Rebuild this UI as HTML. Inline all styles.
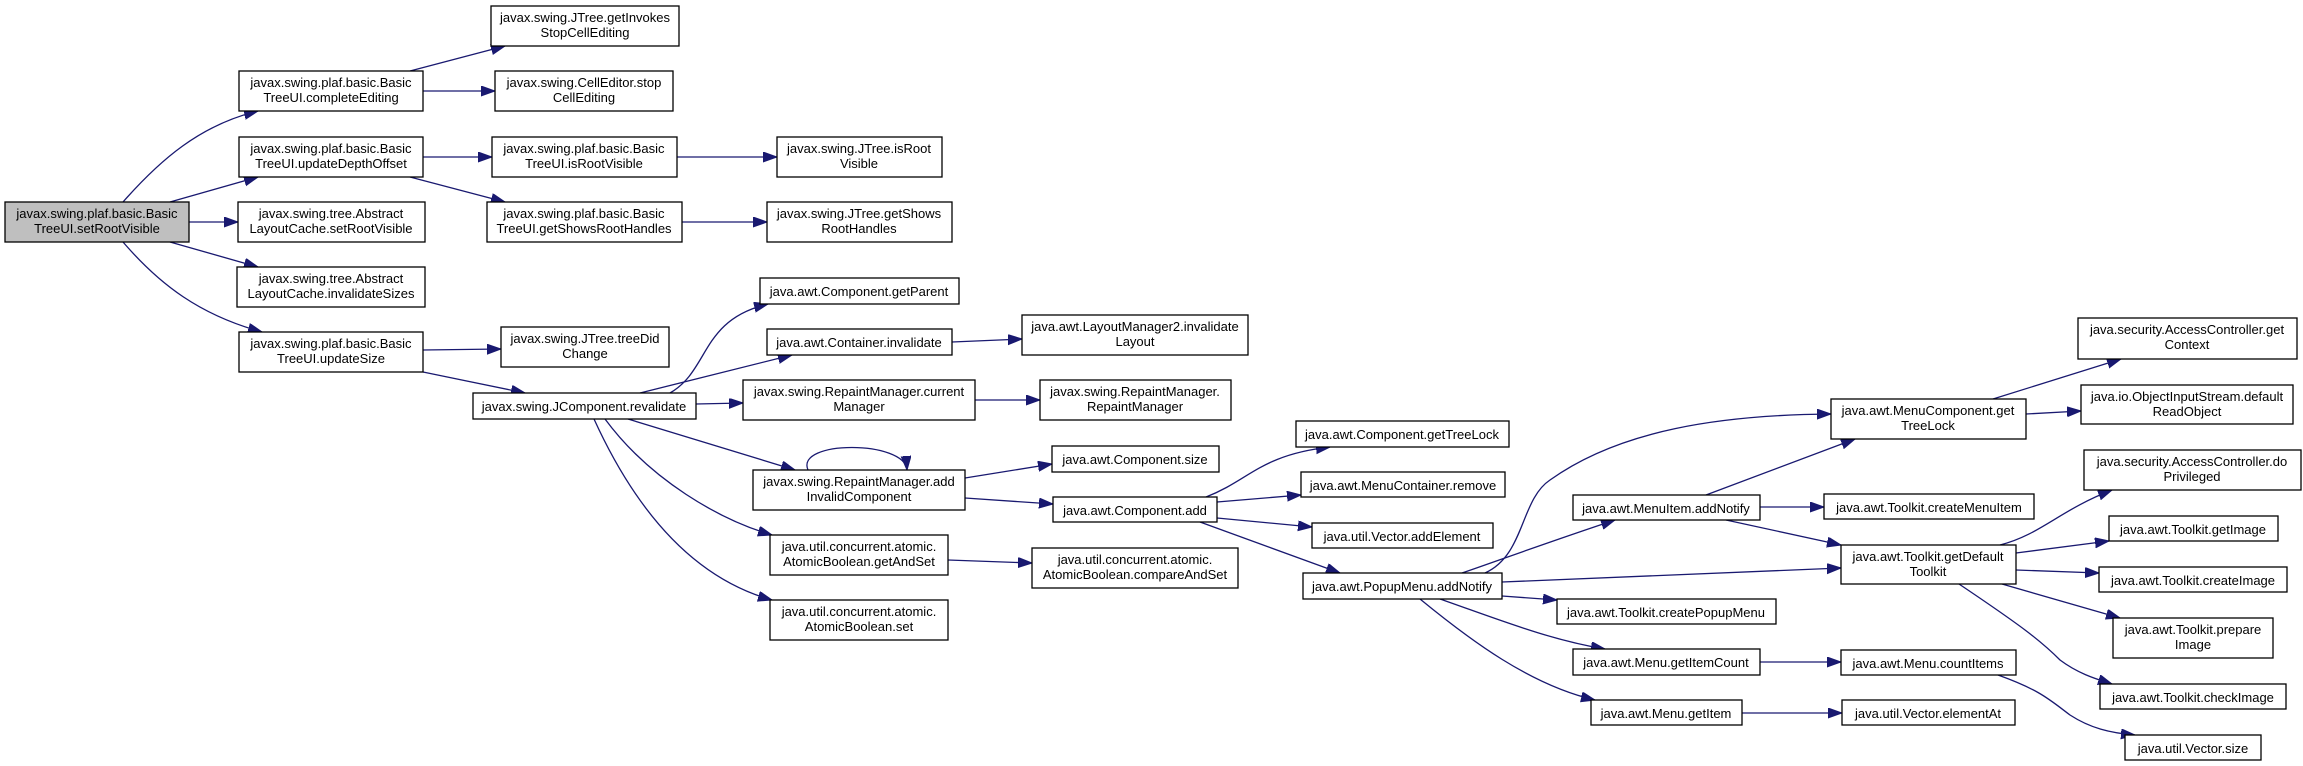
<!DOCTYPE html>
<html><head><meta charset="utf-8"><style>
html,body{margin:0;padding:0;background:#fff;}
svg{display:block;}
text{font-family:"Liberation Sans",Arial,sans-serif;font-size:13px;fill:#000;text-anchor:middle;}
rect{fill:#fff;stroke:#000;stroke-width:1.3;}
path.e{fill:none;stroke:#191970;stroke-width:1.3;}
</style></head><body>
<svg width="2303" height="766" viewBox="0 0 2303 766" xmlns="http://www.w3.org/2000/svg">
<defs><marker id="a" markerUnits="userSpaceOnUse" markerWidth="15" markerHeight="11" refX="14" refY="5" orient="auto"><path d="M0,0 L14,5 L0,10 z" fill="#191970" stroke="#191970"/></marker></defs>
<g marker-end="url(#a)">
<path class="e" d="M123,202 C160,160 200,125 258,111"/>
<path class="e" d="M170,202 L258,177"/>
<path class="e" d="M189,222 L238,222"/>
<path class="e" d="M170,242 L258,267"/>
<path class="e" d="M123,242 C160,285 200,315 262,332"/>
<path class="e" d="M410,71 L505,46"/>
<path class="e" d="M423,91 L495,91"/>
<path class="e" d="M423,157 L492,157"/>
<path class="e" d="M410,177 L505,202"/>
<path class="e" d="M677,157 L777,157"/>
<path class="e" d="M682,222 L767,222"/>
<path class="e" d="M423,350 L501,349"/>
<path class="e" d="M423,372 L525,393"/>
<path class="e" d="M670,393 C710,370 700,320 768,304"/>
<path class="e" d="M640,393 L792,355"/>
<path class="e" d="M696,404 L743,403"/>
<path class="e" d="M628,419 L795,470"/>
<path class="e" d="M605,419 C650,480 720,520 772,535"/>
<path class="e" d="M594,419 C640,520 700,580 772,600"/>
<path class="e" d="M952,342 L1022,339"/>
<path class="e" d="M975,400 L1040,400"/>
<path class="e" d="M808,470 C795,440 905,440 907,470"/>
<path class="e" d="M965,478 L1052,464"/>
<path class="e" d="M965,498 L1053,504"/>
<path class="e" d="M948,560 L1032,563"/>
<path class="e" d="M1206,497 C1250,480 1260,455 1330,447"/>
<path class="e" d="M1217,502 L1301,495"/>
<path class="e" d="M1217,518 L1312,527"/>
<path class="e" d="M1200,522 C1250,540 1290,555 1340,573"/>
<path class="e" d="M1485,573 C1525,555 1520,500 1550,480 C1620,430 1720,415 1831,414"/>
<path class="e" d="M1462,573 C1500,560 1540,545 1615,520"/>
<path class="e" d="M1502,582 L1841,568"/>
<path class="e" d="M1502,596 L1557,600"/>
<path class="e" d="M1440,599 C1500,620 1550,640 1605,649"/>
<path class="e" d="M1420,599 C1470,640 1530,685 1595,700"/>
<path class="e" d="M1706,495 L1855,439"/>
<path class="e" d="M1760,507 L1824,507"/>
<path class="e" d="M1726,520 L1841,545"/>
<path class="e" d="M1760,662 L1841,662"/>
<path class="e" d="M1742,713 L1842,713"/>
<path class="e" d="M1993,399 L2121,359"/>
<path class="e" d="M2026,414 L2081,411"/>
<path class="e" d="M2000,545 C2040,535 2060,510 2112,490"/>
<path class="e" d="M2016,553 L2109,541"/>
<path class="e" d="M2016,570 L2099,573"/>
<path class="e" d="M2002,584 L2120,618"/>
<path class="e" d="M1959,584 C2020,625 2040,640 2060,660 C2080,675 2100,680 2112,684"/>
<path class="e" d="M1998,675 C2040,690 2050,700 2070,715 C2090,728 2110,733 2135,735"/>
</g>
<!-- nodes -->
<rect x="5" y="202" width="184" height="40" style="fill:#bfbfbf"/><text x="97" y="218">javax.swing.plaf.basic.Basic</text><text x="97" y="233">TreeUI.setRootVisible</text>
<rect x="239" y="71" width="184" height="40"/><text x="331" y="87">javax.swing.plaf.basic.Basic</text><text x="331" y="102">TreeUI.completeEditing</text>
<rect x="239" y="137" width="184" height="40"/><text x="331" y="153">javax.swing.plaf.basic.Basic</text><text x="331" y="168">TreeUI.updateDepthOffset</text>
<rect x="238" y="202" width="187" height="40"/><text x="331" y="218">javax.swing.tree.Abstract</text><text x="331" y="233">LayoutCache.setRootVisible</text>
<rect x="237" y="267" width="188" height="40"/><text x="331" y="283">javax.swing.tree.Abstract</text><text x="331" y="298">LayoutCache.invalidateSizes</text>
<rect x="239" y="332" width="184" height="40"/><text x="331" y="348">javax.swing.plaf.basic.Basic</text><text x="331" y="363">TreeUI.updateSize</text>
<rect x="491" y="6" width="188" height="40"/><text x="585" y="22">javax.swing.JTree.getInvokes</text><text x="585" y="37">StopCellEditing</text>
<rect x="495" y="71" width="178" height="40"/><text x="584" y="87">javax.swing.CellEditor.stop</text><text x="584" y="102">CellEditing</text>
<rect x="492" y="137" width="185" height="40"/><text x="584" y="153">javax.swing.plaf.basic.Basic</text><text x="584" y="168">TreeUI.isRootVisible</text>
<rect x="487" y="202" width="195" height="40"/><text x="584" y="218">javax.swing.plaf.basic.Basic</text><text x="584" y="233">TreeUI.getShowsRootHandles</text>
<rect x="501" y="327" width="168" height="40"/><text x="585" y="343">javax.swing.JTree.treeDid</text><text x="585" y="358">Change</text>
<rect x="473" y="393" width="223" height="26"/><text x="584" y="411">javax.swing.JComponent.revalidate</text>
<rect x="777" y="137" width="165" height="40"/><text x="859" y="153">javax.swing.JTree.isRoot</text><text x="859" y="168">Visible</text>
<rect x="767" y="202" width="185" height="40"/><text x="859" y="218">javax.swing.JTree.getShows</text><text x="859" y="233">RootHandles</text>
<rect x="760" y="278" width="199" height="26"/><text x="859" y="296">java.awt.Component.getParent</text>
<rect x="767" y="329" width="185" height="26"/><text x="859" y="347">java.awt.Container.invalidate</text>
<rect x="743" y="380" width="232" height="40"/><text x="859" y="396">javax.swing.RepaintManager.current</text><text x="859" y="411">Manager</text>
<rect x="753" y="470" width="212" height="40"/><text x="859" y="486">javax.swing.RepaintManager.add</text><text x="859" y="501">InvalidComponent</text>
<rect x="770" y="535" width="178" height="40"/><text x="859" y="551">java.util.concurrent.atomic.</text><text x="859" y="566">AtomicBoolean.getAndSet</text>
<rect x="770" y="600" width="178" height="40"/><text x="859" y="616">java.util.concurrent.atomic.</text><text x="859" y="631">AtomicBoolean.set</text>
<rect x="1022" y="315" width="226" height="40"/><text x="1135" y="331">java.awt.LayoutManager2.invalidate</text><text x="1135" y="346">Layout</text>
<rect x="1040" y="380" width="191" height="40"/><text x="1135" y="396">javax.swing.RepaintManager.</text><text x="1135" y="411">RepaintManager</text>
<rect x="1052" y="446" width="167" height="26"/><text x="1135" y="464">java.awt.Component.size</text>
<rect x="1053" y="497" width="164" height="25"/><text x="1135" y="515">java.awt.Component.add</text>
<rect x="1032" y="548" width="206" height="40"/><text x="1135" y="564">java.util.concurrent.atomic.</text><text x="1135" y="579">AtomicBoolean.compareAndSet</text>
<rect x="1296" y="421" width="213" height="26"/><text x="1402" y="439">java.awt.Component.getTreeLock</text>
<rect x="1301" y="472" width="204" height="25"/><text x="1403" y="490">java.awt.MenuContainer.remove</text>
<rect x="1312" y="523" width="181" height="25"/><text x="1402" y="541">java.util.Vector.addElement</text>
<rect x="1303" y="573" width="199" height="26"/><text x="1402" y="591">java.awt.PopupMenu.addNotify</text>
<rect x="1573" y="495" width="187" height="25"/><text x="1666" y="513">java.awt.MenuItem.addNotify</text>
<rect x="1557" y="599" width="219" height="25"/><text x="1666" y="617">java.awt.Toolkit.createPopupMenu</text>
<rect x="1573" y="649" width="187" height="26"/><text x="1666" y="667">java.awt.Menu.getItemCount</text>
<rect x="1591" y="700" width="151" height="25"/><text x="1666" y="718">java.awt.Menu.getItem</text>
<rect x="1831" y="399" width="195" height="40"/><text x="1928" y="415">java.awt.MenuComponent.get</text><text x="1928" y="430">TreeLock</text>
<rect x="1824" y="494" width="210" height="25"/><text x="1929" y="512">java.awt.Toolkit.createMenuItem</text>
<rect x="1841" y="545" width="175" height="39"/><text x="1928" y="561">java.awt.Toolkit.getDefault</text><text x="1928" y="576">Toolkit</text>
<rect x="1841" y="650" width="175" height="25"/><text x="1928" y="668">java.awt.Menu.countItems</text>
<rect x="1842" y="700" width="173" height="25"/><text x="1928" y="718">java.util.Vector.elementAt</text>
<rect x="2078" y="318" width="219" height="41"/><text x="2187" y="334">java.security.AccessController.get</text><text x="2187" y="349">Context</text>
<rect x="2081" y="385" width="212" height="39"/><text x="2187" y="401">java.io.ObjectInputStream.default</text><text x="2187" y="416">ReadObject</text>
<rect x="2084" y="450" width="217" height="40"/><text x="2192" y="466">java.security.AccessController.do</text><text x="2192" y="481">Privileged</text>
<rect x="2109" y="516" width="169" height="25"/><text x="2193" y="534">java.awt.Toolkit.getImage</text>
<rect x="2099" y="567" width="188" height="25"/><text x="2193" y="585">java.awt.Toolkit.createImage</text>
<rect x="2113" y="618" width="160" height="40"/><text x="2193" y="634">java.awt.Toolkit.prepare</text><text x="2193" y="649">Image</text>
<rect x="2100" y="684" width="186" height="25"/><text x="2193" y="702">java.awt.Toolkit.checkImage</text>
<rect x="2125" y="735" width="136" height="25"/><text x="2193" y="753">java.util.Vector.size</text>
</svg>
</body></html>
